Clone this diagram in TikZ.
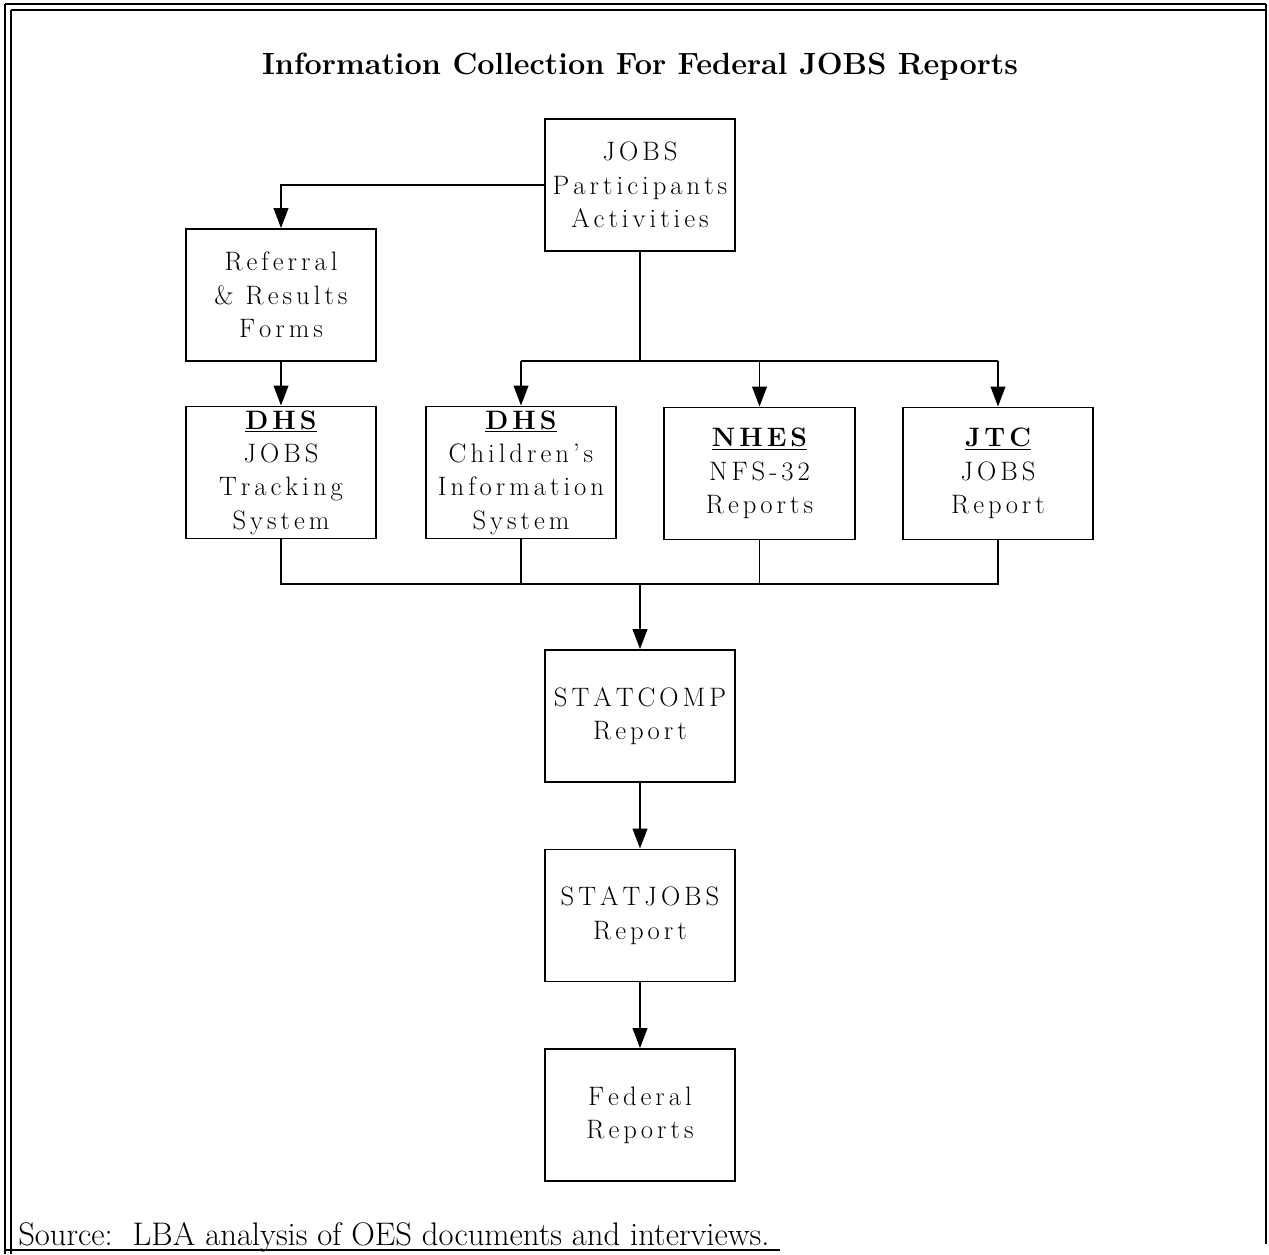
\documentclass[tikz,border=0pt]{standalone}
\usepackage{fontspec}
\usetikzlibrary{arrows.meta}
\def\spc#1{\spcA#1\relax}
\def\spcA#1{\ifx\relax#1\unskip\else#1\hskip 3pt\relax\expandafter\spcA\fi}
\begin{document}
\begin{tikzpicture}[x=0.75pt,y=-0.75pt,
  box/.style={draw,line width=1.4pt,minimum width=143pt,minimum height=99pt,inner sep=0pt,align=center,
    font=\fontsize{20}{25}\selectfont},
  conn/.style={line width=1.4pt},
  arr/.style={line width=1.4pt,-{Triangle[length=15pt,width=11pt]}},
  frame/.style={line width=1.5pt}]
\useasboundingbox (0,0) rectangle (1269,1254);
% frame
\draw[frame] (5,4) -- (1266,4);
\draw[frame] (11,10) -- (1266,10);
\draw[frame] (5,4) -- (5,1254);
\draw[frame] (11,10) -- (11,1254);
\draw[frame] (1266,4) -- (1266,1244);
\draw[frame] (5,1250) -- (780,1250);
% title
\node[font=\bfseries\fontsize{23}{27}\selectfont] (title) at (640,67) {Information Collection For Federal JOBS Reports};
% boxes
\node[box] (A) at (640,185) {\spc{JOBS}\\\spc{Participants}\\\spc{Activities}};
\node[box] (B) at (281,295) {\spc{Referral}\\\spc{\&}\hskip 9pt\spc{Results}\\\spc{Forms}};
\node[box] (D1) at (281,472.5) {\underline{\textbf{\spc{DHS}}}\\\spc{JOBS}\\\spc{Tracking}\\\spc{System}};
\node[box] (D2) at (521,472.5) {\underline{\textbf{\spc{DHS}}}\\\spc{Children's}\\\spc{Information}\\\spc{System}};
\node[box] (N) at (759.5,473.5) {\underline{\textbf{\spc{NHES}}}\\\spc{NFS-32}\\\spc{Reports}};
\node[box] (J) at (998,473.5) {\underline{\textbf{\spc{JTC}}}\\\spc{JOBS}\\\spc{Report}};
\node[box] (S1) at (640,716) {\spc{STATCOMP}\\\spc{Report}};
\node[box] (S2) at (640,915.5) {\spc{STATJOBS}\\\spc{Report}};
\node[box] (F) at (640,1115) {\spc{Federal}\\\spc{Reports}};
% junctions
\coordinate (j1) at (640,361);
\coordinate (j2) at (640,584);
% connectors
\draw[arr] (A.west) -| (B.north);
\draw[arr] (B.south) -- (D1.north);
\draw[conn] (A.south) -- (j1);
\draw[conn] (D2.north |- j1) -- (J.north |- j1);
\draw[arr] (D2.north |- j1) -- (D2.north);
\draw[arr] (N.north |- j1) -- (N.north);
\draw[arr] (J.north |- j1) -- (J.north);
\draw[conn] (D1.south) -- (D1.south |- j2) -- (J.south |- j2) -- (J.south);
\draw[conn] (D2.south) -- (D2.south |- j2);
\draw[conn] (N.south) -- (N.south |- j2);
\draw[arr] (j2) -- (S1.north);
\draw[arr] (S1.south) -- (S2.north);
\draw[arr] (S2.south) -- (F.north);
% source
\node[anchor=base west,inner sep=0pt,font=\fontsize{24.5}{28}\selectfont] (src) at (18,1245) {Source:\ \ LBA analysis of OES documents and interviews.};
\end{tikzpicture}
\end{document}
